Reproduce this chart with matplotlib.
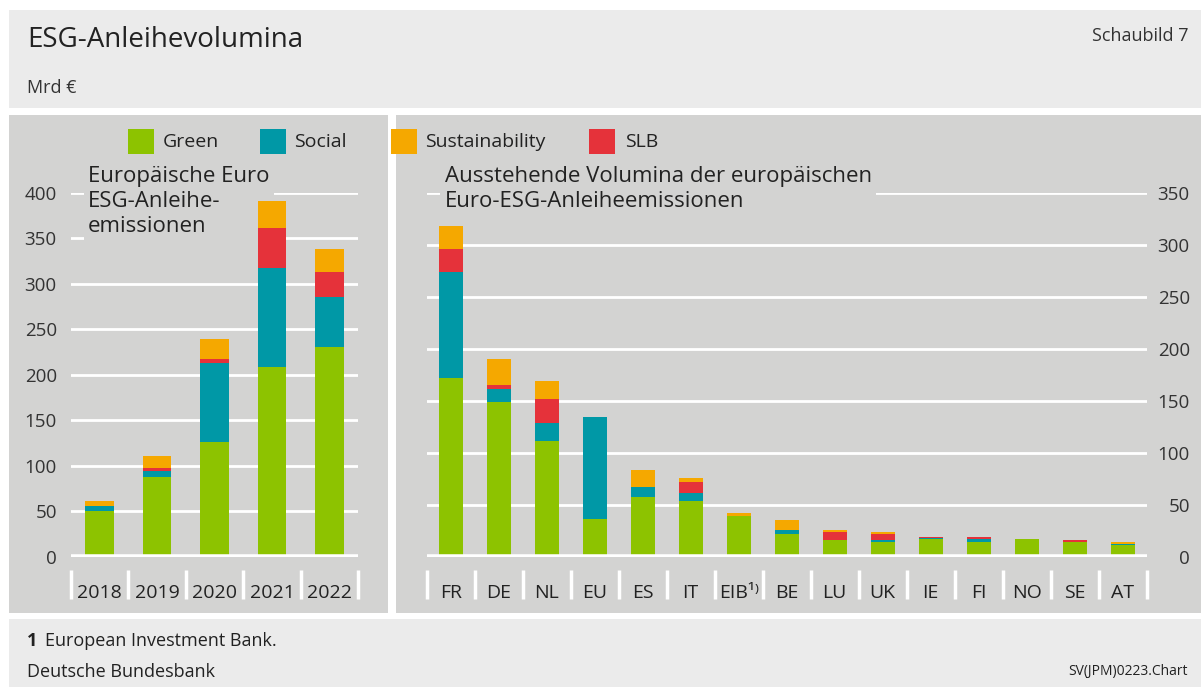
import numpy as np
import matplotlib
matplotlib.use("Agg")
import matplotlib.pyplot as plt
from matplotlib.patches import Rectangle

plt.rcParams['font.family'] = ['Open Sans', 'DejaVu Sans']

# data, Mrd EUR
years = ['2018', '2019', '2020', '2021', '2022']
green_y = [50.5, 88, 125.5, 209, 230.5]
social_y = [5, 6.5, 87.5, 108, 54.5]
slb_y = [0, 2.5, 4.5, 44, 28]
sust_y = [6, 13.5, 21.5, 30, 25.5]

countries = ['FR', 'DE', 'NL', 'EU', 'ES', 'IT', 'EIB¹⁾', 'BE', 'LU', 'UK',
             'IE', 'FI', 'NO', 'SE', 'AT']
green_c = [172, 148.7, 111.4, 36.3, 57.8, 53.6, 39.5, 22.2, 16.1, 14.1, 16.7, 14.5, 17.0, 13.8, 11.6]
social_c = [102.6, 12.5, 17.4, 98.3, 9.6, 7.7, 0, 3.8, 0, 2.3, 1.0, 2.8, 0, 0.7, 0.9]
slb_c = [21.4, 4.5, 22.8, 0, 0, 10.3, 0, 0, 8.0, 5.8, 1.3, 1.3, 0, 1.6, 0]
sust_c = [22.9, 24.7, 17.3, 0, 16.1, 4.5, 2.9, 9.0, 1.9, 1.2, 0, 0, 0, 0, 1.6]

series_names = ['Green', 'Social', 'SLB', 'Sustainability']
colors = {'Green': '#8dc300', 'Social': '#0098a6', 'Sustainability': '#f5a800', 'SLB': '#e5323a'}

W, H = 1201, 687
PANEL = '#d3d3d2'
LIGHT = '#ebebeb'
TXT = '#222222'


def box(x0, y0, x1, y1):
    # pixel box (top-down) -> figure fraction
    return [x0 / W, 1 - y1 / H, (x1 - x0) / W, (y1 - y0) / H]


fig = plt.figure(figsize=(W / 100, H / 100), dpi=100)
fig.patch.set_facecolor('white')

for (x0, y0, x1, y1, c) in [(9, 10, 1201, 108, LIGHT), (9, 115, 388, 613, PANEL),
                            (396, 115, 1201, 613, PANEL), (9, 619, 1201, 687, LIGHT)]:
    b = box(x0, y0, x1, y1)
    fig.patches.append(Rectangle((b[0], b[1]), b[2], b[3], transform=fig.transFigure,
                                 facecolor=c, edgecolor='none', zorder=-5))

fig.text(27 / W, 1 - 40 / H, 'ESG-Anleihevolumina', fontsize=20, color=TXT, va='center',
         fontweight='medium')
fig.text(1188 / W, 1 - 36 / H, 'Schaubild 7', fontsize=13, color='#333333', va='center', ha='right')
fig.text(27 / W, 1 - 88 / H, 'Mrd €', fontsize=13, color='#333333', va='center')


def stacked(ax, labels, parts):
    x = np.arange(len(labels))
    bottom = np.zeros(len(labels))
    for name in series_names:
        vals = np.array(parts[name])
        ax.bar(x, vals, 0.5, bottom=bottom, color=colors[name], zorder=3)
        bottom += vals
    return x


def style(ax, n, top, side):
    ax.set_facecolor('none')
    for s in ax.spines.values():
        s.set_visible(False)
    ax.set_xlim(-0.5, n - 0.5)
    ax.set_ylim(0, top)
    ax.set_yticks(np.arange(0, top + 1, 50))
    ax.grid(axis='y', color='white', linewidth=2.0, zorder=1)
    ax.axhline(0, color='white', linewidth=4, zorder=4)
    ax.tick_params(axis='x', length=0, pad=20, labelsize=14, labelcolor=TXT)
    if side == 'left':
        ax.tick_params(axis='y', length=0, pad=10, labelsize=13.5, labelcolor='#333333')
    else:
        ax.yaxis.tick_right()
        ax.tick_params(axis='y', length=0, pad=31, labelsize=13.5, labelcolor='#333333')
        for t in ax.get_yticklabels():
            t.set_ha('right')
    tr = ax.get_xaxis_transform()
    ax.vlines(np.arange(n + 1) - 0.5, -0.116, -0.037, color='white', linewidth=2.5,
              transform=tr, clip_on=False)


ax1 = fig.add_axes(box(70.7, 192.7, 358.3, 556.7))
x1 = stacked(ax1, years, {'Green': green_y, 'Social': social_y, 'SLB': slb_y,
                          'Sustainability': sust_y})
ax1.set_xticks(x1, years)
style(ax1, len(years), 400, 'left')
ax1.text(0.06, 1.072, 'Europäische Euro\nESG-Anleihe-\nemissionen', transform=ax1.transAxes,
         fontsize=16, color=TXT, va='top', ha='left', linespacing=1.25, zorder=2,
         bbox=dict(facecolor=PANEL, edgecolor='none', pad=3))

ax2 = fig.add_axes(box(426.7, 193.3, 1146.7, 556.7))
x2 = stacked(ax2, countries, {'Green': green_c, 'Social': social_c, 'SLB': slb_c,
                              'Sustainability': sust_c})
ax2.set_xticks(x2, countries)
style(ax2, len(countries), 350, 'right')
ax2.text(0.025, 1.076, 'Ausstehende Volumina der europäischen\nEuro-ESG-Anleiheemissionen',
         transform=ax2.transAxes, fontsize=16, color=TXT, va='top', ha='left', linespacing=1.25,
         zorder=2, bbox=dict(facecolor=PANEL, edgecolor='none', pad=3))

# legend
for name, sx, tx in [('Green', 127.5, 163), ('Social', 260, 294),
                     ('Sustainability', 391, 425.5), ('SLB', 589, 625)]:
    b = box(sx, 129, sx + 26, 154)
    fig.patches.append(Rectangle((b[0], b[1]), b[2], b[3], transform=fig.transFigure,
                                 facecolor=colors[name], edgecolor='none', zorder=2))
    fig.text(tx / W, 1 - 142 / H, name, fontsize=14, color=TXT, va='center')

fig.text(27 / W, 1 - 641 / H, '1', fontsize=13, fontweight='bold', color=TXT, va='center')
fig.text(45 / W, 1 - 641 / H, 'European Investment Bank.', fontsize=13, color=TXT, va='center')
fig.text(27 / W, 1 - 672 / H, 'Deutsche Bundesbank', fontsize=13, color=TXT, va='center')
fig.text(1188 / W, 1 - 672 / H, 'SV(JPM)0223.Chart', fontsize=10, color=TXT, va='center', ha='right')

fig.savefig('out.png', dpi=100, facecolor=fig.get_facecolor())
